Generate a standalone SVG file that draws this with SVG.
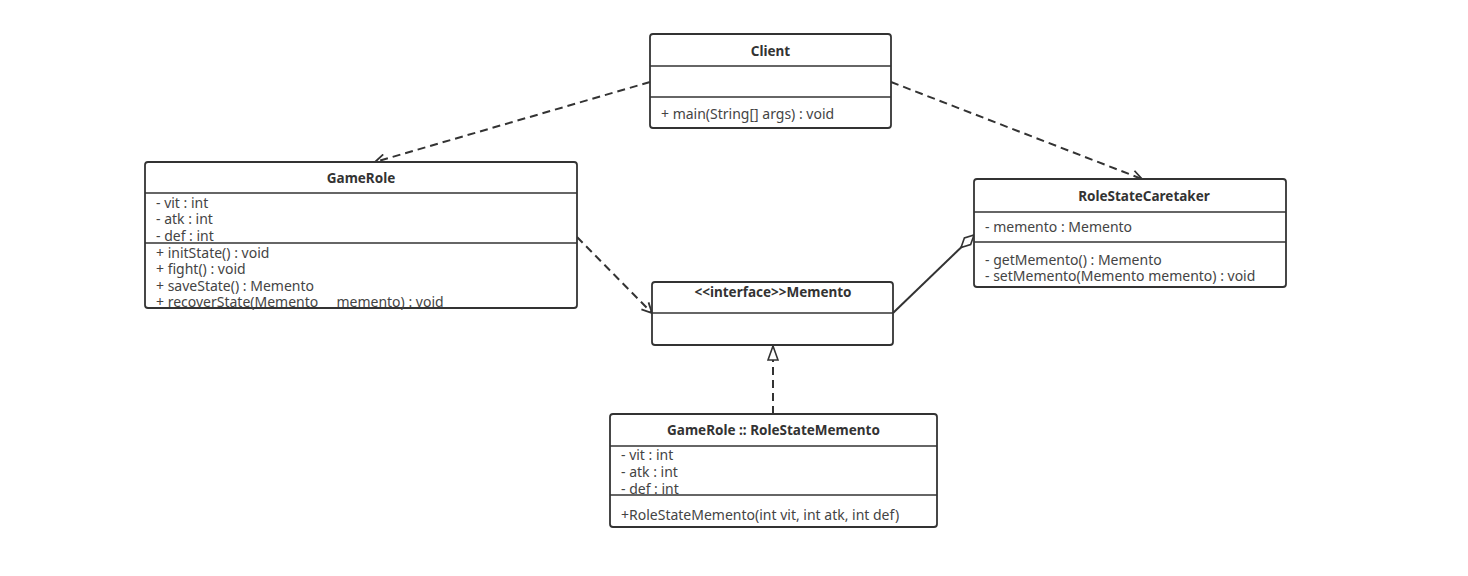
<svg xmlns="http://www.w3.org/2000/svg" width="1468" height="576" viewBox="0 0 1468 576">
<style>
.box{fill:#fff;stroke:#333;stroke-width:1.8}
.sep{stroke:#333;stroke-width:1.6}
.t{font-family:"Noto Sans","Liberation Sans",sans-serif;font-size:14px;fill:#444}
.b{font-weight:bold;text-anchor:middle;font-size:13.5px;fill:#333}
.dash{fill:none;stroke:#333;stroke-width:2;stroke-dasharray:8,5}
.solid{fill:none;stroke:#333;stroke-width:2}
</style>
<defs>
<marker id="open" viewBox="0 0 12 12" refX="11" refY="6" markerWidth="12" markerHeight="12" markerUnits="userSpaceOnUse" orient="auto">
<path d="M1,1 L11,6 L1,11" fill="none" stroke="#333" stroke-width="1.8"/>
</marker>
<marker id="tri" viewBox="0 0 16 12" refX="15" refY="6" markerWidth="16" markerHeight="12" markerUnits="userSpaceOnUse" orient="auto">
<path d="M1,1 L15,6 L1,11 Z" fill="#fff" stroke="#333" stroke-width="1.6"/>
</marker>
<marker id="dia" viewBox="0 0 20 12" refX="19" refY="6" markerWidth="20" markerHeight="12" markerUnits="userSpaceOnUse" orient="auto">
<path d="M1,6 L10,1.5 L19,6 L10,10.5 Z" fill="#fff" stroke="#333" stroke-width="1.6"/>
</marker>
</defs>
<rect width="1468" height="576" fill="#fff"/>
<g id="connectors">
<path class="dash" d="M650,82 L375,162" marker-end="url(#open)"/>
<path class="dash" d="M891,82 L1142,179" marker-end="url(#open)"/>
<path class="dash" d="M577,237 L652,313" marker-end="url(#open)"/>
<path class="solid" d="M893,313 L974,235" marker-end="url(#dia)"/>
<path class="dash" d="M773,414 L773,346" marker-end="url(#tri)"/>
</g>
<g id="Client">
<rect class="box" x="650" y="34" width="241" height="94" rx="3"/>
<line class="sep" x1="650" y1="66" x2="891" y2="66"/>
<line class="sep" x1="650" y1="97" x2="891" y2="97"/>
<text class="t b" x="770.5" y="56">Client</text>
<text class="t" x="661" y="119">+ main(String[] args) : void</text>
</g>
<g id="GameRole">
<rect class="box" x="145" y="162" width="432" height="146" rx="3"/>
<line class="sep" x1="145" y1="193" x2="577" y2="193"/>
<line class="sep" x1="145" y1="243" x2="577" y2="243"/>
<text class="t b" x="361" y="183">GameRole</text>
<text class="t" x="156" y="208">- vit : int</text>
<text class="t" x="156" y="224">- atk : int</text>
<text class="t" x="156" y="241">- def : int</text>
<text class="t" x="156" y="258">+ initState() : void</text>
<text class="t" x="156" y="274">+ fight() : void</text>
<text class="t" x="156" y="291">+ saveState() : Memento</text>
<text class="t" x="156" y="307" xml:space="preserve">+ recoverState(Memento     memento) : void</text>
</g>
<g id="RoleStateCaretaker">
<rect class="box" x="974" y="179" width="312" height="108" rx="3"/>
<line class="sep" x1="974" y1="212" x2="1286" y2="212"/>
<line class="sep" x1="974" y1="242" x2="1286" y2="242"/>
<text class="t b" x="1144" y="201">RoleStateCaretaker</text>
<text class="t" x="985" y="232">- memento : Memento</text>
<text class="t" x="985" y="265">- getMemento() : Memento</text>
<text class="t" x="985" y="281">- setMemento(Memento memento) : void</text>
</g>
<g id="Memento">
<rect class="box" x="652" y="282" width="241" height="63" rx="3"/>
<line class="sep" x1="652" y1="313" x2="893" y2="313"/>
<text class="t b" x="773" y="297">&lt;&lt;interface&gt;&gt;Memento</text>
</g>
<g id="RoleStateMemento">
<rect class="box" x="610" y="414" width="327" height="113" rx="3"/>
<line class="sep" x1="610" y1="446" x2="937" y2="446"/>
<line class="sep" x1="610" y1="495" x2="937" y2="495"/>
<text class="t b" x="773.5" y="435">GameRole :: RoleStateMemento</text>
<text class="t" x="621" y="460">- vit : int</text>
<text class="t" x="621" y="477">- atk : int</text>
<text class="t" x="621" y="494">- def : int</text>
<text class="t" x="621" y="520">+RoleStateMemento(int vit, int atk, int def)</text>
</g>
</svg>
